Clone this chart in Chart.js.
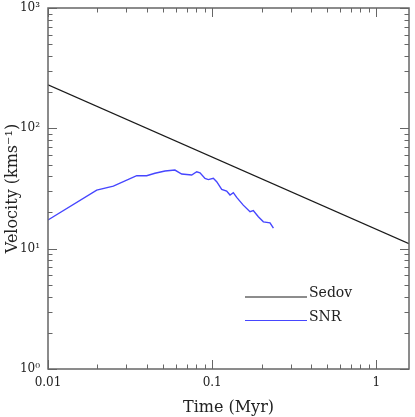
<!DOCTYPE html>
<html>
<head>
<meta charset="utf-8">
<script src="https://cdn.jsdelivr.net/npm/chart.js@4"></script>
<style>
  body { margin: 0; background: #fff; }
  canvas { display: block; }
</style>
</head>
<body>
<canvas id="vitesse" width="415" height="417"></canvas>
<script>
// données (log-log)
const sedovTime = [0.01, 1.58];
const sedovVel = [230, 11.0];

const snrTime = [0.01, 0.0198, 0.025, 0.0347, 0.0399, 0.0448, 0.0516, 0.0593, 0.0652, 0.075,
  0.0805, 0.0843, 0.0904, 0.0947, 0.1016, 0.1065, 0.1143, 0.1225, 0.1284, 0.1345,
  0.141, 0.1546, 0.170, 0.178, 0.191, 0.205, 0.225, 0.236];
const snrVel = [17.3, 30.7, 33.1, 40.4, 40.4, 42.3, 44.2, 45.0, 41.7, 40.9,
  43.6, 42.7, 38.3, 37.5, 38.4, 36.0, 31.1, 30.1, 27.9, 29.2,
  26.7, 23.0, 20.3, 20.7, 18.4, 16.7, 16.4, 14.8];

const xTicks = [0.01, 0.1, 1];
const xTickLabels = ['0.01', '0.1', '1'];
const yTicks = [1, 10, 100, 1000];
const yTickLabels = ['10\u2070', '10\u00b9', '10\u00b2', '10\u00b3'];

const seriesNames = ['Sedov', 'SNR'];
const seriesColors = ['#1a1a1a', '#4646ff'];

const police = 'DejaVu Serif';
const cadre = '#666666';

function toPoints(xs, ys) {
  return xs.map((x, i) => ({ x: x, y: ys[i] }));
}

// petites graduations vers l'intérieur + cadre complet
const graduations = {
  id: 'graduations',
  afterDraw(chart) {
    const ctx = chart.ctx;
    const a = chart.chartArea;
    const sx = chart.scales.x;
    const sy = chart.scales.y;
    ctx.save();
    ctx.strokeStyle = cadre;
    ctx.lineWidth = 1;
    ctx.beginPath();
    for (let d = -2; d <= 0; d++) {
      for (let m = 1; m <= 9; m++) {
        const v = m * Math.pow(10, d);
        if (v < sx.min || v > sx.max) continue;
        const px = Math.round(sx.getPixelForValue(v)) + 0.5;
        const len = m === 1 ? 9 : 4.5;
        ctx.moveTo(px, a.bottom); ctx.lineTo(px, a.bottom - len);
        ctx.moveTo(px, a.top); ctx.lineTo(px, a.top + len);
      }
    }
    for (let d = 0; d <= 3; d++) {
      for (let m = 1; m <= 9; m++) {
        const v = m * Math.pow(10, d);
        if (v < sy.min || v > sy.max) continue;
        const py = Math.round(sy.getPixelForValue(v)) + 0.5;
        const len = m === 1 ? 9 : 4.5;
        ctx.moveTo(a.left, py); ctx.lineTo(a.left + len, py);
        ctx.moveTo(a.right, py); ctx.lineTo(a.right - len, py);
      }
    }
    ctx.stroke();
    ctx.lineWidth = 1.5;
    ctx.strokeRect(a.left, a.top, a.right - a.left, a.bottom - a.top);

    // légende à la main, en bas à droite
    ctx.font = '14px "' + police + '"';
    ctx.textBaseline = 'alphabetic';
    ctx.textAlign = 'left';
    for (let i = 0; i < seriesNames.length; i++) {
      const y = a.top + 289 + i * 23.5;
      ctx.strokeStyle = seriesColors[i];
      ctx.lineWidth = 1;
      ctx.beginPath();
      ctx.moveTo(a.left + 197, y);
      ctx.lineTo(a.left + 259, y);
      ctx.stroke();
      ctx.fillStyle = '#222';
      ctx.fillText(seriesNames[i], a.left + 261, y);
    }
    ctx.restore();
  }
};

new Chart(document.getElementById('vitesse'), {
  type: 'line',
  data: {
    datasets: [{
      label: seriesNames[0],
      data: toPoints(sedovTime, sedovVel),
      borderColor: seriesColors[0],
      borderWidth: 1.2,
      pointRadius: 0,
      tension: 0
    }, {
      label: seriesNames[1],
      data: toPoints(snrTime, snrVel),
      borderColor: seriesColors[1],
      borderWidth: 1.4,
      pointRadius: 0,
      tension: 0
    }]
  },
  options: {
    responsive: false,
    animation: false,
    layout: { padding: { top: 8, right: 6, left: 0, bottom: 0 } },
    plugins: {
      legend: { display: false },
      tooltip: { enabled: false }
    },
    scales: {
      x: {
        type: 'logarithmic',
        min: 0.01,
        max: 1.58,
        grid: { display: false, drawTicks: false },
        border: { display: false },
        afterBuildTicks: (s) => { s.ticks = xTicks.map(v => ({ value: v })); },
        afterFit: (s) => { s.height = 48; s.paddingLeft = 0; s.paddingRight = 0; },
        ticks: {
          autoSkip: false,
          maxRotation: 0,
          padding: 7,
          color: '#222',
          font: { family: police, size: 12 },
          callback: (v) => xTickLabels[xTicks.indexOf(v)]
        },
        title: {
          display: true,
          text: 'Time (Myr)',
          color: '#222',
          font: { family: police, size: 16 },
          padding: { top: 0, bottom: 0 }
        }
      },
      y: {
        type: 'logarithmic',
        min: 1,
        max: 1000,
        grid: { display: false, drawTicks: false },
        border: { display: false },
        afterBuildTicks: (s) => { s.ticks = yTicks.map(v => ({ value: v })); },
        afterFit: (s) => { s.width = 48; s.paddingTop = 0; s.paddingBottom = 0; },
        ticks: {
          autoSkip: false,
          padding: 8,
          color: '#222',
          font: { family: police, size: 12 },
          callback: (v) => yTickLabels[yTicks.indexOf(v)]
        },
        title: {
          display: true,
          text: 'Velocity (kms\u207b\u00b9)',
          color: '#222',
          font: { family: police, size: 16 },
          padding: { top: 3, bottom: 0 }
        }
      }
    }
  },
  plugins: [graduations]
});
</script>
</body>
</html>
